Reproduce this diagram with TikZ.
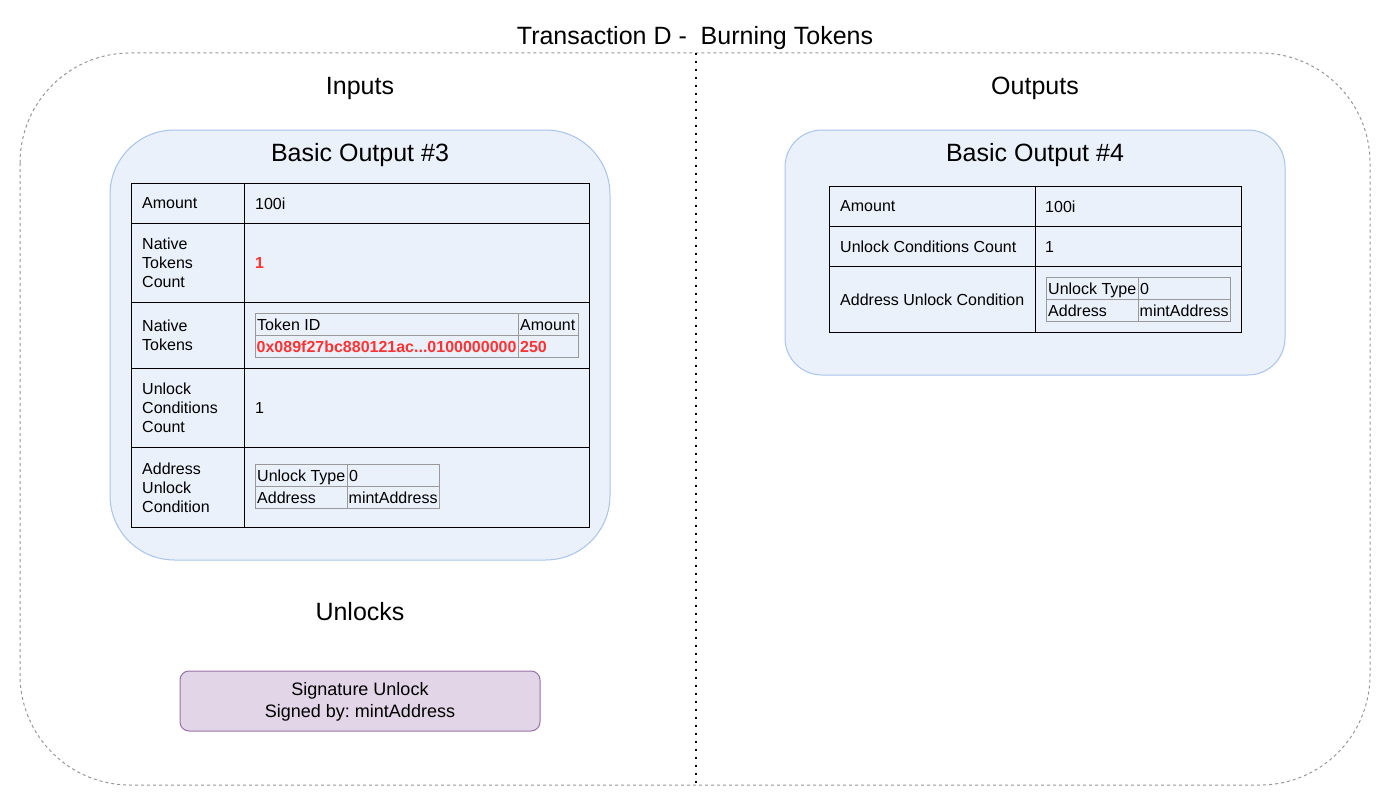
\documentclass[tikz,border=0pt]{standalone}
\usepackage{fontspec}
\setmainfont{Liberation Sans}
\frenchspacing
\definecolor{boxfill}{RGB}{234,241,251}
\definecolor{boxline}{RGB}{169,196,235}
\definecolor{sigfill}{RGB}{225,213,231}
\definecolor{sigline}{RGB}{150,115,166}
\definecolor{tgray}{RGB}{153,153,153}
\definecolor{outline}{RGB}{150,150,150}
\definecolor{hot}{RGB}{255,51,51}
\newcommand\cellfont{\fontsize{16}{19.2}\selectfont}
\newcommand\headfont{\fontsize{25}{30}\selectfont}
\newcommand\sigfont{\fontsize{18}{21.6}\selectfont}
\begin{document}
\begin{tikzpicture}[x=1pt,y=-1pt]
\tikzset{
  cell/.style={draw, line width=1pt, inner sep=0pt, anchor=north west},
  lbl/.style={anchor=west, align=left, inner sep=0pt, font=\cellfont},
  icell/.style={draw=tgray, line width=1pt, inner sep=0pt, anchor=north west, minimum height=22pt},
  ilbl/.style={anchor=west, inner sep=0pt, font=\cellfont, text height=11.5pt, text depth=0pt},
  head/.style={anchor=base, inner sep=0pt, font=\headfont},
  group/.style={draw=boxline, fill=boxfill, line width=1pt},
}
\useasboundingbox (0,0) rectangle (1392,808);

% transaction frame and divider
\draw[outline, line width=1pt, dash pattern=on 3pt off 3pt, rounded corners=110pt]
  (20,53) rectangle (1370,785);
\coordinate (divT) at (696,53);
\coordinate (divB) at (696,785);
\draw[line width=1.6pt, dash pattern=on 1.6pt off 6.4pt] (divT) -- (divB);

\node[head] (title) at (695,45) {Transaction D -\ \ Burning Tokens};
\node[head] (inputs) at (360,95) {Inputs};
\node[head] (outputs) at (1035,95) {Outputs};
\node[head] (unlocks) at (360,620) {Unlocks};

% ---------------- input: Basic Output #3 ----------------
\draw[group, rounded corners=64.5pt] (110,130) rectangle (610,560);
\node[head] (in3) at (360,161) {Basic Output \#3};

\node[cell, minimum width=113pt, minimum height=40pt] (aK) at (131,183) {};
\node[cell, minimum width=345pt, minimum height=40pt] (aV) at (244,183) {};
\node[cell, minimum width=113pt, minimum height=79pt] (nK) at (131,223) {};
\node[cell, minimum width=345pt, minimum height=79pt] (nV) at (244,223) {};
\node[cell, minimum width=113pt, minimum height=66pt] (tK) at (131,302) {};
\node[cell, minimum width=345pt, minimum height=66pt] (tV) at (244,302) {};
\node[cell, minimum width=113pt, minimum height=79pt] (uK) at (131,368) {};
\node[cell, minimum width=345pt, minimum height=79pt] (uV) at (244,368) {};
\node[cell, minimum width=113pt, minimum height=80pt] (cK) at (131,447) {};
\node[cell, minimum width=345pt, minimum height=80pt] (cV) at (244,447) {};

\node[lbl] (aKt) at ([xshift=11pt]aK.west) {Amount};
\node[lbl] (aVt) at ([xshift=11pt]aV.west) {100i};
\node[lbl] (nKt) at ([xshift=11pt]nK.west) {Native\\Tokens\\Count};
\node[lbl, text=hot, font=\cellfont\bfseries] (nVt) at ([xshift=11pt]nV.west) {1};
\node[lbl] (tKt) at ([xshift=11pt]tK.west) {Native\\Tokens};
\node[lbl] (uKt) at ([xshift=11pt]uK.west) {Unlock\\Conditions\\Count};
\node[lbl] (uVt) at ([xshift=11pt]uV.west) {1};
\node[lbl] (cKt) at ([xshift=11pt]cK.west) {Address\\Unlock\\Condition};

% native token list
\node[icell, minimum width=263pt] (tid) at (255,313) {};
\node[icell, minimum width=60pt] (tam) at (518,313) {};
\node[icell, minimum width=263pt] (tidv) at (255,335) {};
\node[icell, minimum width=60pt] (tamv) at (518,335) {};
\node[ilbl] at ([xshift=2pt]tid.west) {Token ID};
\node[ilbl] at ([xshift=2pt]tam.west) {Amount};
\node[ilbl, text=hot, font=\cellfont\bfseries] at ([xshift=1.5pt]tidv.west) {\mbox{0x089f27bc880121ac...0100000000}};
\node[ilbl, text=hot, font=\cellfont\bfseries] at ([xshift=2pt]tamv.west) {250};

% address unlock condition
\node[icell, minimum width=92pt] (ut) at (255,464) {};
\node[icell, minimum width=92pt] (utv) at (347,464) {};
\node[icell, minimum width=92pt] (ad) at (255,486) {};
\node[icell, minimum width=92pt] (adv) at (347,486) {};
\node[ilbl] at ([xshift=2pt]ut.west) {Unlock Type};
\node[ilbl] at ([xshift=2pt]utv.west) {0};
\node[ilbl] at ([xshift=2pt]ad.west) {Address};
\node[ilbl] at ([xshift=1.5pt]adv.west) {mintAddress};

% ---------------- output: Basic Output #4 ----------------
\draw[group, rounded corners=37pt] (785,130) rectangle (1285,375);
\node[head] (out4) at (1035,161) {Basic Output \#4};

\node[cell, minimum width=206pt, minimum height=40pt] (oaK) at (829,186) {};
\node[cell, minimum width=206pt, minimum height=40pt] (oaV) at (1035,186) {};
\node[cell, minimum width=206pt, minimum height=40pt] (ouK) at (829,226) {};
\node[cell, minimum width=206pt, minimum height=40pt] (ouV) at (1035,226) {};
\node[cell, minimum width=206pt, minimum height=66pt] (ocK) at (829,266) {};
\node[cell, minimum width=206pt, minimum height=66pt] (ocV) at (1035,266) {};

\node[lbl] at ([xshift=11pt]oaK.west) {Amount};
\node[lbl] at ([xshift=10pt]oaV.west) {100i};
\node[lbl] at ([xshift=11pt]ouK.west) {Unlock Conditions Count};
\node[lbl] at ([xshift=10pt]ouV.west) {1};
\node[lbl] at ([xshift=11pt]ocK.west) {\mbox{Address Unlock Condition}};

\node[icell, minimum width=92pt] (out) at (1046,277) {};
\node[icell, minimum width=92pt] (outv) at (1138,277) {};
\node[icell, minimum width=92pt] (oad) at (1046,299) {};
\node[icell, minimum width=92pt] (oadv) at (1138,299) {};
\node[ilbl] at ([xshift=2pt]out.west) {Unlock Type};
\node[ilbl] at ([xshift=2pt]outv.west) {0};
\node[ilbl] at ([xshift=2pt]oad.west) {Address};
\node[ilbl] at ([xshift=1.5pt]oadv.west) {mintAddress};

% ---------------- unlocks ----------------
\draw[draw=sigline, fill=sigfill, line width=1pt, rounded corners=9pt] (180,671) rectangle (540,731);
\node[font=\sigfont, align=center, inner sep=0pt] (sig) at (360,702) {Signature Unlock\\Signed by: mintAddress};
\end{tikzpicture}
\end{document}
